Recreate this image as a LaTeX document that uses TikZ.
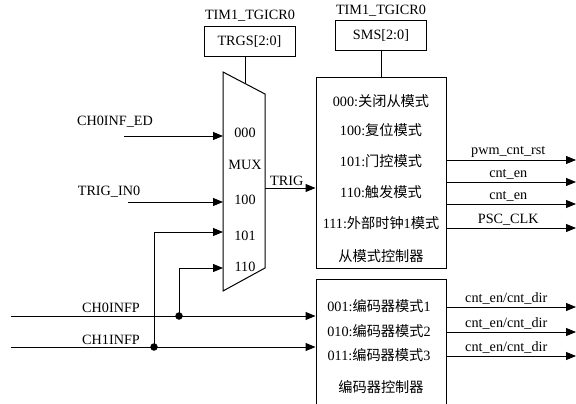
\documentclass[tikz,border=0pt]{standalone}
\usepackage{fontspec}
\setmainfont{Liberation Serif}
\newfontfamily\cjk{Noto Sans CJK SC}
\usetikzlibrary{arrows.meta,positioning}
\tikzset{
  regbox/.style={draw,line width=1pt,minimum width=91pt,minimum height=30pt,inner sep=0pt},
  ctrlbox/.style={draw,line width=1pt,minimum width=130pt,inner sep=0pt},
  sig/.style={line width=1pt},
  txt/.style={inner sep=0pt},
  joint/.style={circle,fill,inner sep=0pt,minimum size=7.5pt}
}
\begin{document}
\begin{tikzpicture}[>={Triangle[length=10pt,width=8pt]},x=1pt,y=-1pt,font=\fontsize{14.2}{16}\selectfont]
\useasboundingbox (0,0) rectangle (576,404);
\clip (0,0) rectangle (576,404);
% registers
\node[regbox] (trgs) at (249.5,41.5) {TRGS[2:0]};
\node[txt,anchor=base] (reg1) at (250,20) {TIM1\_TGICR0};
\node[regbox] (sms) at (381,36) {SMS[2:0]};
\node[txt,anchor=base] (reg2) at (381,15) {TIM1\_TGICR0};
% mux
\coordinate (m1) at (223,72);
\coordinate (m2) at (265,94);
\coordinate (m3) at (265,268);
\coordinate (m4) at (223,291);
\draw[sig] (m1)--(m2)--(m3)--(m4)--cycle;
\coordinate (mtop) at (245,83.5);
\draw[sig] (mtop |- trgs.south) -- (mtop);
\node[txt] (s000) at (245,133) {000};
\node[txt] (mux) at (245,165) {MUX};
\node[txt] (s100) at (245,200) {100};
\node[txt] (s101) at (245,236) {101};
\node[txt] (s110) at (245,267) {110};
% inputs
\node[txt] (ched) at (115,122) {CH0INF\_ED};
\coordinate (ched0) at (124,136);
\draw[sig,->] (ched0) -- (ched0 -| m1);
\node[txt] (trigin) at (109,192) {TRIG\_IN0};
\coordinate (trigin0) at (128,202);
\draw[sig,->] (trigin0) -- (trigin0 -| m1);
\coordinate (in101) at (223,232);
\coordinate (in110) at (223,268);
% controllers
\node[ctrlbox,minimum height=190pt] (slave) at (381,173) {};
\node[txt] at (381,101) {000:{\cjk 关闭从模式}};
\node[txt] at (381,130) {100:{\cjk 复位模式}};
\node[txt] at (381,161) {101:{\cjk 门控模式}};
\node[txt] at (381,192) {110:{\cjk 触发模式}};
\node[txt] at (381,223) {111:{\cjk 外部时钟}1{\cjk 模式}};
\node[txt] at (381,256) {\cjk 从模式控制器};
\draw[sig] (sms.south) -- (slave.north);
\node[ctrlbox,minimum height=150pt,anchor=north] (enc) at (381,279) {};
\node[txt] at (379,306) {001:{\cjk 编码器模式}1};
\node[txt] at (379,331) {010:{\cjk 编码器模式}2};
\node[txt] at (379,355) {011:{\cjk 编码器模式}3};
\node[txt] at (381,387) {\cjk 编码器控制器};
% trig
\coordinate (mout) at (265,188);
\draw[sig,->] (mout) -- node[txt,above=2pt,pos=0.43]{TRIG} (mout -| slave.west);
% channel lines
\coordinate (chp0) at (11,316);
\coordinate (chp1) at (11,347);
\node[txt] (chp0lab) at (111,308) {CH0INFP};
\node[txt] (chp1lab) at (111,340) {CH1INFP};
\draw[sig,->] (chp0) -- (chp0 -| enc.west);
\draw[sig,->] (chp1) -- (chp1 -| enc.west);
\node[joint] (d0) at (179,316) {};
\node[joint] (d1) at (154,347) {};
\draw[sig,->] (d0.center) |- (in110);
\draw[sig,->] (d1.center) |- (in101);
% outputs
\coordinate (t1) at (576,160);
\coordinate (t2) at (576,182);
\coordinate (t3) at (576,204);
\coordinate (t4) at (576,228);
\draw[sig,->] (t1 -| slave.east) -- node[txt,above=2pt,xshift=-3pt]{pwm\_cnt\_rst} (t1);
\draw[sig,->] (t2 -| slave.east) -- node[txt,above=2pt,xshift=-3pt]{cnt\_en} (t2);
\draw[sig,->] (t3 -| slave.east) -- node[txt,above=2pt,xshift=-3pt]{cnt\_en} (t3);
\draw[sig,->] (t4 -| slave.east) -- node[txt,above=2pt,xshift=-3pt]{PSC\_CLK} (t4);
\foreach \y/\n in {307/e1,332/e2,356/e3}{
  \coordinate (\n) at (576,\y);
  \draw[sig,->] (\n -| enc.east) -- node[txt,above=2pt,xshift=-5pt]{cnt\_en/cnt\_dir} (\n);
}
\end{tikzpicture}
\end{document}
